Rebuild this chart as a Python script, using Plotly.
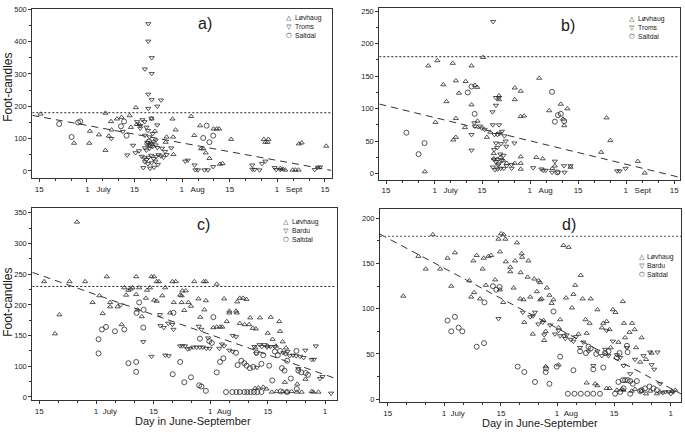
import numpy as np
import plotly.graph_objects as go

# ---------------- data (day: June 15 = 15, one tick step = 15.33 days) ----------------
a_lovhaug = [(15.4,176),(26.2,86),(31.1,86),(31.3,123),(34.2,112),(36.3,64),(36.3,179),(37.4,108),
             (38.1,153),(38.3,127),(40.0,161),(41.5,166),(44.1,171),(44.5,135),(46.1,196),(46.4,144),
             (47.2,144),(51.2,161),(52.2,123),(56.0,105),(55.7,89),(57.9,161),(58.2,51),(58.9,127),
             (58.1,105),(63.9,169),(64.9,110),(66.8,140),(67.1,69),(67.8,69),(68.6,56),(69.8,39),
             (71.1,130),(72.1,130),(72.9,130),(73.2,21),(74.0,23),(76.8,98),(87.3,98),(87.8,89),
             (88.5,89),(88.8,98),(92.6,8),(93.4,6),(94.2,3),(96.6,3),(97.5,3),(98.5,3),(98.6,84),
             (99.5,87),(107.4,77)]
a_troms = [(50.1,455),(50.1,401),(51.2,350),(51.2,301),(49.0,315),(50.1,237),(51.2,220),(54.2,219),
           (53.0,200),(50.1,193),(38.2,100),(41.9,122),(43.3,49),(45.2,79),(46.0,56),(47.1,62),
           (47.5,140),(48.2,158),(48.9,152),(49.5,135),(50.0,125),(51.1,163),(53.0,142),(49.0,110),
           (50.5,105),(51.5,115),(52.5,95),(49.8,88),(50.4,80),(51.0,85),(51.8,90),(52.5,80),
           (49.0,71),(49.5,64),(50.5,70),(51.5,75),(53.0,72),(54.5,70),(57.5,71),(48.0,45),
           (48.8,40),(49.5,35),(50.2,42),(51.0,48),(51.8,38),(52.6,44),(53.4,50),(54.2,46),
           (55.0,42),(56.0,50),(49.0,28),(50.0,22),(51.2,25),(52.4,30),(53.2,20),(48.5,10),
           (50.7,8),(52.0,11),(47.5,132),(46.5,152),(55.5,60),(62.0,30),(62.8,33),(65.0,18),
           (65.3,3),(66.1,3),(68.2,3),(69.3,3),(71.0,13),(83.6,18),(83.6,5),(84.3,4),(85.9,3),
           (86.7,23),(87.8,30),(90.8,10),(91.3,4),(92.6,4),(103.7,4),(104.7,11),(105.4,12)]
a_saltdal = [(21.4,145),(25.4,105),(27.5,150),(28.2,153),(41.3,138),(42.3,153),(43.1,109),(49.8,85),
             (50.3,91),(50.9,80),(67.8,102),(68.9,140),(69.8,89),(71.0,109)]

b_lovhaug = [(27.4,3),(28.5,166),(31.4,174),(30.8,79),(33.3,137),(34.3,111),(36.3,170),(36.5,52),
             (37.3,56),(37.3,143),(37.3,85),(38.3,124),(40.2,71),(40.4,142),(42.3,166),(42.3,106),
             (43.4,136),(44.1,133),(44.2,81),(46.0,179),(47.2,56),(48.3,64),(49.4,31),(49.4,23),
             (51.1,120),(51.1,114),(50.5,22),(51.5,25),(52.5,20),(53.5,16),(56.1,132),(56.1,114),
             (58.0,127),(58.0,88),(59.1,89),(58.0,26),(58.0,16),(58.0,7),(56.1,16),(63.0,25),
             (63.9,147),(65.0,23),(67.1,97),(68.1,8),(68.9,12),(70.8,107),(72.9,100),(71.9,74),
             (71.5,84),(73.9,10),(83.7,33),(85.4,86),(86.6,51),(95.4,19),(97.6,1)]
b_troms = [(49.2,234),(43.2,78),(43.4,73),(42.3,60),(42.3,36),(45.0,73),(45.6,70),(46.5,68),
           (49.0,95),(50.1,105),(50.1,117),(51.0,117),(49.1,75),(51.1,75),(49.6,60),(50.6,60),
           (51.3,62),(52.0,65),(52.8,58),(53.2,50),(53.4,42),(51.7,46),(50.5,40),(49.5,37),
           (50.1,47),(51.5,30),(52.5,28),(56.0,47),(49.1,10),(49.8,6),(50.6,7),(51.6,8),(52.6,8),
           (53.5,12),(50.1,18),(51.0,15),(52.0,20),(49.5,22),(50.8,13),(55.1,8),(55.1,14),
           (62.0,9),(64.6,7),(65.2,5),(66.0,5),(68.0,2),(68.9,19),(69.9,2),(71.8,12),(72.0,2),
           (73.9,12),(88.8,4),(89.6,4),(91.5,8)]
b_saltdal = [(21.5,63),(27.3,47),(25.4,30),(41.1,125),(42.3,134),(43.3,92),(68.0,126),(68.9,80),
             (69.9,90),(70.8,92),(71.9,81),(69.7,2)]

c_lovhaug = [(16.3,238),(19.2,153),(20.4,184),(23.1,238),(25.1,335),(27.3,238),(29.3,204),(31.1,215),
             (32.0,186),(33.1,246),(34.0,204),(34.0,197),(36.0,197),(37.1,168),(37.8,228),(38.3,216),
             (38.9,224),(39.5,226),(40.0,228),(41.0,246),(41.0,217),(41.4,192),(41.8,228),(42.5,181),
             (43.6,211),(43.9,224),(44.7,228),(45.1,246),(45.8,246),(45.8,208),(46.5,206),(46.5,238),
             (47.1,238),(48.0,215),(48.8,228),(50.1,187),(50.7,238),(51.6,238),(51.1,204),(52.8,216),
             (53.2,215),(53.2,204),(53.9,191),(53.4,223),(54.3,223),(55.0,204),(55.7,198),(56.6,238),
             (57.7,210),(59.1,238),(59.7,238),(58.2,180),(59.3,192),(59.7,207),(62.6,234),(61.7,163),
             (62.6,164),(63.5,164),(64.1,164),(64.6,210),(66.0,190),(66.0,187),(65.3,173),(67.8,190),
             (68.0,187),(68.1,205),(68.8,211),(69.7,211),(68.8,170),(70.1,168),(71.3,168),(70.6,209),
             (72.3,162),(73.1,161),(71.6,179),(73.0,130),(74.2,179),(76.3,154),(76.3,133),(77.1,180),
             (77.6,144),(78.5,133),(79.4,173),(79.6,157),(80.3,140),(80.9,74),(81.2,130),(84.2,71),
             (86.4,79),(72.9,64),(73.8,65),(75.1,66),(76.0,63),(77.4,58),(78.7,59),(80.3,59),
             (81.4,58),(82.7,59),(84.1,58),(85.4,58),(88.1,59),(88.5,58),(89.9,58)]
c_bardu = [(36.8,200),(42.9,140),(45.1,116),(47.4,184),(48.8,118),(49.7,117),(47.5,166),(48.4,163),
           (49.6,170),(50.7,168),(51.0,160),(52.8,133),(53.4,133),(54.1,133),(54.8,128),(55.4,129),
           (56.3,131),(57.2,131),(58.1,131),(58.9,131),(59.8,129),(60.7,129),(57.8,165),(58.5,160),
           (60.3,146),(63.3,129),(64.0,136),(64.6,133),(66.0,126),(66.9,124),(66.9,150),(67.8,148),
           (72.7,132),(73.2,121),(73.4,98),(74.1,135),(74.7,132),(75.4,135),(76.1,131),(77.0,132),
           (78.2,132),(80.5,122),(81.1,120),(81.6,124),(82.2,117),(83.1,118),(83.9,117),(85.0,116),
           (85.9,114),(84.5,96),(86.4,126),(88.1,111),(88.7,111),(89.2,133),(90.3,80),(91.0,83),
           (93.3,56)]
c_saltdal = [(30.9,144),(30.9,121),(31.8,160),(32.9,164),(35.3,157),(37.8,160),(38.9,105),(41.0,107),
             (41.0,91),(41.1,187),(41.8,204),(42.9,163),(43.0,192),(50.8,87),(51.0,187),(52.8,107),
             (53.9,74),(55.7,82),(57.9,69),(58.5,67),(59.7,60),(58.1,145),(60.6,141),(61.3,138),
             (61.7,180),(62.6,90),(63.5,107),(64.4,113),(67.8,122),(68.2,102),(69.2,109),(70.0,105),
             (70.6,101),(71.5,97),(72.4,99),(73.3,122),(74.6,104),(75.1,118),(76.7,101),(77.5,77),
             (78.2,124),(79.0,118),(79.6,125),(80.1,97),(80.8,93),(81.5,109),(82.5,80),(84.0,125),
             (84.5,93),(85.3,90),(86.5,89),(87.1,86),(65.1,58),(66.8,58),(67.9,58),(68.8,58),
             (70.0,58),(70.8,58),(71.7,58),(72.6,58),(73.5,58),(74.6,58),(79.8,59),(81.5,58),(84.1,63)]

d_lovhaug = [(19.2,114),(23.3,158),(25.3,144),(27.2,182),(29.2,144),(31.2,156),(32.2,125),(33.2,162),
             (37.1,131),(37.6,113),(38.4,118),(38.2,153),(39.1,159),(40.0,111),(40.7,144),(41.0,156),
             (41.6,126),(42.3,158),(43.0,159),(44.1,132),(45.0,177),(45.7,183),(46.4,182),(46.9,177),
             (47.0,152),(45.4,121),(45.4,163),(46.3,107),(49.5,153),(48.2,141),(48.2,146),(49.1,123),
             (50.0,173),(51.0,140),(50.9,111),(51.3,161),(51.4,157),(51.8,110),(52.0,85),(52.9,135),
             (53.1,153),(53.6,113),(54.3,72),(54.7,133),(55.4,119),(55.9,131),(56.3,129),(56.3,110),
             (56.7,111),(57.2,87),(57.4,65),(57.8,75),(58.1,123),(58.8,115),(59.4,106),(59.9,110),
             (61.3,79),(61.7,88),(62.6,170),(64.0,168),(63.3,112),(64.9,101),(65.3,116),(65.8,126),
             (66.7,72),(67.3,137),(67.8,111),(68.6,88),(68.9,73),(69.7,84),(70.0,111),(71.8,99),
             (73.0,79),(73.4,84),(74.3,86),(75.1,77),(75.4,57),(76.0,99),(76.7,96),(77.5,63),
             (78.7,108),(79.0,84),(79.3,68),(80.5,74),(81.2,84),(81.9,77),(82.3,57),(83.4,41),
             (83.8,68),(85.0,44),(86.5,51),(57.8,36),(61.3,38),(68.9,18),(71.2,17),(71.8,15),
             (74.3,12),(75.1,12),(77.1,10),(78.4,11),(78.9,10),(81.1,9),(82.0,11),(83.8,9),(85.0,6),
             (86.1,9),(87.9,6),(88.8,8),(92.0,9),(92.9,10)]
d_bardu = [(45.0,89),(51.6,96),(53.6,91),(54.3,92),(54.9,96),(55.8,83),(57.0,85),(57.4,71),(59.0,82),
           (60.3,72),(61.3,76),(61.7,70),(62.8,70),(63.1,67),(63.5,71),(64.6,66),(65.3,64),(66.0,69),
           (67.1,57),(68.0,63),(69.4,53),(70.7,37),(71.8,53),(73.0,48),(73.9,55),(74.3,76),(74.8,48),
           (76.0,64),(77.1,49),(78.0,46),(78.9,37),(79.8,57),(80.7,28),(82.0,44),(84.3,48),(86.1,52),
           (88.1,52),(86.5,38),(87.2,33),(88.8,17),(89.5,7),(90.2,8),(91.1,8),(91.7,6),(92.4,8)]
d_saltdal = [(31.2,87),(32.2,75),(33.2,91),(34.2,79),(35.2,75),(39.1,58),(41.1,62),(41.2,107),
             (43.5,125),(44.4,121),(45.3,124),(50.2,36),(52.0,30),(54.9,19),(57.8,30),(57.9,34),
             (58.8,17),(59.9,97),(61.7,47),(60.8,36),(65.3,32),(67.1,53),(68.7,51),(69.4,58),
             (70.0,56),(70.7,33),(71.5,50),(73.4,35),(73.9,51),(74.8,53),(77.1,46),(77.8,51),
             (77.5,19),(78.7,21),(79.3,21),(80.0,21),(80.7,20),(78.9,12),(81.4,17),(82.5,20),
             (83.8,10),(84.7,12),(85.9,14),(87.0,12),(87.9,10),(79.8,59),(80.0,52),(63.8,6),
             (65.6,6),(67.3,6),(69.1,6),(70.7,6),(72.5,6),(76.6,6),(78.0,8),(80.7,6),(83.4,9)]

# regression lines (intercept at day 0, slope per day) and reference levels
fit_a = (194.4, -1.767)
fit_b = (122.2, -1.176)
fit_c = (280.8, -2.123)
fit_d = (210.4, -2.166)
level_a, level_b, level_c, level_d = 180, 180, 230, 180

series_names_ab = ["Løvhaug", "Troms", "Saltdal"]
series_names_cd = ["Løvhaug", "Bardu", "Saltdal"]

sp = "\u00a0"
xtick_ab = ["15", sp*10 + "1" + sp*3 + "July", "15", sp*9 + "1" + sp*3 + "Aug", "15",
            sp*10 + "1" + sp*3 + "Sept", "15"]
xtick_cd = ["15", sp*8 + "1" + sp*2 + "July", "15", sp*8 + "1" + sp*2 + "Aug", "15", "1"]
ytick_c_text = ["0", "100", "150", "200", "250", "300", "350"]

# ---------------- figure ----------------
W, H = 685, 435
FONT = "Liberation Sans, Arial, sans-serif"
INK = "#2b2b2b"

def px_dom(x0, x1, y0, y1):
    return [x0 / W, x1 / W], [1 - y1 / H, 1 - y0 / H]

panels = {
    "a": dict(box=(32.3, 331.5, 4.7, 176.5), xr=[12.75, 109.1], yr=[-22, 501.8],
              ymaj=list(range(0, 501, 100)), ymin_step=50, nt=7, xt=xtick_ab,
              data=[a_lovhaug, a_troms, a_saltdal], fit=fit_a, lvl=level_a, names=series_names_ab),
    "b": dict(box=(379.3, 679.5, 4.3, 178), xr=[12.86, 108.7], yr=[-9.1, 254.6],
              ymaj=list(range(0, 251, 50)), ymin_step=25, nt=7, xt=xtick_ab,
              data=[b_lovhaug, b_troms, b_saltdal], fit=fit_b, lvl=level_b, names=series_names_ab),
    "c": dict(box=(32.3, 336.5, 207.3, 401.5), xr=[13.12, 94.75], yr=[45.1, 357.1],
              ymaj=list(range(50, 351, 50)), ymin_step=25, nt=6, xt=xtick_cd,
              data=[c_lovhaug, c_bardu, c_saltdal], fit=fit_c, lvl=level_c, names=series_names_cd),
    "d": dict(box=(380, 681.3, 208.3, 404), xr=[12.9, 94.54], yr=[-3.6, 209.8],
              ymaj=list(range(0, 201, 50)), ymin_step=25, nt=6, xt=xtick_cd,
              data=[d_lovhaug, d_bardu, d_saltdal], fit=fit_d, lvl=level_d, names=series_names_cd),
}

fig = go.Figure()
symbols = ["triangle-up-open", "triangle-down-open", "circle-open"]
sizes = [4.5, 4.5, 5]
layout = {}
for i, (key, p) in enumerate(panels.items()):
    n = "" if i == 0 else str(i + 1)
    xa, ya = "x" + n, "y" + n
    xdom, ydom = px_dom(*p["box"])
    step = 15.3333
    majors = [15 + step * k for k in range(p["nt"])]
    minors = [15 + step / 3 * k for k in range(-3, 3 * p["nt"] + 3)
              if k % 3 != 0 and p["xr"][0] <= 15 + step / 3 * k <= p["xr"][1]]
    ymin = [v for v in np.arange(p["yr"][0] // p["ymin_step"] * p["ymin_step"], p["yr"][1], p["ymin_step"])
            if v >= p["yr"][0] and v not in p["ymaj"]]
    for j, ser in enumerate(p["data"]):
        xs = [q[0] for q in ser]
        ys = [q[1] for q in ser]
        fig.add_trace(go.Scatter(x=xs, y=ys, mode="markers", xaxis=xa, yaxis=ya, showlegend=False,
                                 name=p["names"][j],
                                 marker=dict(symbol=symbols[j], size=sizes[j], color=INK,
                                             line=dict(width=0.8, color=INK))))
    b0, b1 = p["fit"]
    fx = p["xr"]
    fig.add_trace(go.Scatter(x=fx, y=[b0 + b1 * v for v in fx], mode="lines", xaxis=xa, yaxis=ya,
                             showlegend=False, hoverinfo="skip",
                             line=dict(color="#333333", width=1, dash="7px,5px")))
    fig.add_trace(go.Scatter(x=fx, y=[p["lvl"], p["lvl"]], mode="lines", xaxis=xa, yaxis=ya,
                             showlegend=False, hoverinfo="skip",
                             line=dict(color="#222222" if key != "d" else "#777777",
                                       width=1 if key != "d" else 1.4, dash="2px,2px")))
    ytext = ytick_c_text if key == "c" else [str(v) for v in p["ymaj"]]
    layout["xaxis" + n] = dict(domain=xdom, range=p["xr"], anchor=ya, showgrid=False, zeroline=False,
                               showline=True, mirror=True, linecolor="#333", linewidth=1,
                               tickmode="array", tickvals=majors, ticktext=p["xt"],
                               ticks="outside", ticklen=3, tickcolor="#333",
                               ticklabeloverflow="allow",
                               tickfont=dict(size=8, color="#222", family=FONT),
                               minor=dict(tickvals=minors, ticks="outside", ticklen=2, tickcolor="#333"))
    layout["yaxis" + n] = dict(domain=ydom, range=p["yr"], anchor=xa, showgrid=False, zeroline=False,
                               showline=True, mirror=True, linecolor="#333", linewidth=1,
                               tickmode="array", tickvals=p["ymaj"], ticktext=ytext,
                               ticks="outside", ticklen=3, tickcolor="#333",
                               tickfont=dict(size=7.5, color="#222", family=FONT),
                               minor=dict(tickvals=ymin, ticks="outside", ticklen=2, tickcolor="#333"))

fig.update_layout(width=W, height=H, margin=dict(l=0, r=0, t=0, b=0), plot_bgcolor="white",
                  paper_bgcolor="white", showlegend=False, font=dict(family=FONT, color="#222"),
                  **layout)

def ann(text, x, y, size, xanchor="center", angle=0):
    fig.add_annotation(text=text, x=x / W, y=1 - y / H, xref="paper", yref="paper", showarrow=False,
                       xanchor=xanchor, yanchor="middle", textangle=angle,
                       font=dict(size=size, family=FONT, color="#1a1a1a"))

# panel letters
ann("a)", 205, 20, 16)
ann("b)", 568, 22, 16)
ann("c)", 203, 224, 16)
ann("d)", 569, 224, 16)
# axis titles
ann("Foot-candles", 8, 85, 12, angle=-90)
ann("Foot-candles", 8, 303, 12, angle=-90)
ann("Day in June-September", 193, 423, 11)
ann("Day in June-September", 540, 425, 11)
# legends: one column of symbols and one column of names per panel
legend_pos = {"a": (289, 23), "b": (632, 24), "c": (286, 229.5), "d": (641.5, 265)}
glyphs = ["△", "▽", "○"]
for key, (lx, ly) in legend_pos.items():
    names = panels[key]["names"]
    fig.add_annotation(text="<br>".join(glyphs), x=lx / W, y=1 - ly / H, xref="paper", yref="paper",
                       showarrow=False, xanchor="center", yanchor="middle", align="center",
                       borderpad=0, font=dict(size=6.6, family="DejaVu Sans", color="#1a1a1a"))
    fig.add_annotation(text="<br>".join(names), x=(lx + 4.5) / W, y=1 - ly / H, xref="paper",
                       yref="paper", showarrow=False, xanchor="left", yanchor="middle", align="left",
                       borderpad=0, font=dict(size=6.8, family=FONT, color="#1a1a1a"))

fig.write_html("out.html", config={"displayModeBar": False},
               post_script="document.body.style.margin='0';document.body.style.padding='0';")
